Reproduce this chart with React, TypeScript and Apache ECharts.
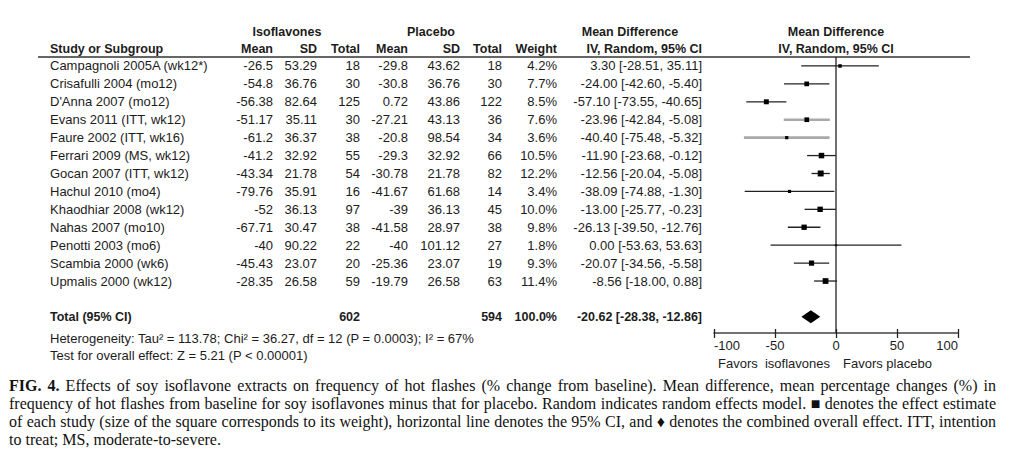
import React, { useEffect, useRef } from "react";
import * as echarts from "echarts";

// ---------------- data ----------------
const studies = [
  "Campagnoli 2005A (wk12*)",
  "Crisafulli 2004 (mo12)",
  "D'Anna 2007 (mo12)",
  "Evans 2011 (ITT, wk12)",
  "Faure 2002 (ITT, wk16)",
  "Ferrari 2009 (MS, wk12)",
  "Gocan 2007 (ITT, wk12)",
  "Hachul 2010 (mo4)",
  "Khaodhiar 2008 (wk12)",
  "Nahas 2007 (mo10)",
  "Penotti 2003 (mo6)",
  "Scambia 2000 (wk6)",
  "Upmalis 2000 (wk12)",
];
const isoMean = [-26.5, -54.8, -56.38, -51.17, -61.2, -41.2, -43.34, -79.76, -52, -67.71, -40, -45.43, -28.35];
const isoSD = [53.29, 36.76, 82.64, 35.11, 36.37, 32.92, 21.78, 35.91, 36.13, 30.47, 90.22, 23.07, 26.58];
const isoTotal = [18, 30, 125, 30, 38, 55, 54, 16, 97, 38, 22, 20, 59];
const plcMean = [-29.8, -30.8, 0.72, -27.21, -20.8, -29.3, -30.78, -41.67, -39, -41.58, -40, -25.36, -19.79];
const plcSD = [43.62, 36.76, 43.86, 43.13, 98.54, 32.92, 21.78, 61.68, 36.13, 28.97, 101.12, 23.07, 26.58];
const plcTotal = [18, 30, 122, 36, 34, 66, 82, 14, 45, 38, 27, 19, 63];
const weight = [4.2, 7.7, 8.5, 7.6, 3.6, 10.5, 12.2, 3.4, 10.0, 9.8, 1.8, 9.3, 11.4];
const md = [3.3, -24.0, -57.1, -23.96, -40.4, -11.9, -12.56, -38.09, -13.0, -26.13, 0.0, -20.07, -8.56];
const lo = [-28.51, -42.6, -73.55, -42.84, -75.48, -23.68, -20.04, -74.88, -25.77, -39.5, -53.63, -34.56, -18.0];
const hi = [35.11, -5.4, -40.65, -5.08, -5.32, -0.12, -5.08, -1.3, -0.23, -12.76, 53.63, -5.58, 0.88];
const greyRows = [3, 4];

const totalIso = 602;
const totalPlc = 594;
const totalWeight = 100.0;
const totalMD = -20.62;
const totalLo = -28.38;
const totalHi = -12.86;

const xMin = -100;
const xMax = 100;
const xInterval = 50;

const heterogeneityText = "Heterogeneity: Tau\u00B2 = 113.78; Chi\u00B2 = 36.27, df = 12 (P = 0.0003); I\u00B2 = 67%";
const overallText = "Test for overall effect: Z = 5.21 (P < 0.00001)";

const captionLines = [
  "FIG. 4. Effects of soy isoflavone extracts on frequency of hot flashes (% change from baseline). Mean difference, mean percentage changes (%) in",
  "frequency of hot flashes from baseline for soy isoflavones minus that for placebo. Random indicates random effects model. \u25A0 denotes the effect estimate",
  "of each study (size of the square corresponds to its weight), horizontal line denotes the 95% CI, and \u2666 denotes the combined overall effect. ITT, intention",
  "to treat; MS, moderate-to-severe.",
];

// ---------------- layout / style ----------------
const FONT = '"Liberation Sans", Arial, Helvetica, sans-serif';
const SERIF = '"Liberation Serif", "Times New Roman", serif';
const INK = "#1c1c1c";
const FS = 13;
const FS_BOLD = 12.5;
const TOTAL_ROW = 14;
const Y_MIN = -0.5;
const Y_MAX = 14.9;
const GRID_TOP = 57;
const GRID_BOTTOM = 131;
const GRID_H = 464 - GRID_TOP - GRID_BOTTOM;
const STUDY_X = 50;
const colRight = [273, 317, 360, 408, 460, 502, 557, 702];
const CAP_L = 9;
const CAP_R = 996;
const CAP_FS = 16;
const capY = [385, 403, 421, 439];

const fmtCI = (m: number, l: number, h: number) => `${m.toFixed(2)} [${l.toFixed(2)}, ${h.toFixed(2)}]`;

function t(text: string, x: number, y: number, align: string, bold = false, size?: number, family = FONT, fill = INK) {
  return {
    type: "text",
    x,
    y,
    silent: true,
    style: {
      text,
      fill,
      fontSize: size ?? (bold ? FS_BOLD : FS),
      fontFamily: family,
      fontWeight: bold ? "bold" : "normal",
      align,
      textAlign: align,
      verticalAlign: "middle",
      textVerticalAlign: "middle",
    },
  };
}

function buildCaption() {
  const canvas = document.createElement("canvas");
  const ctx = canvas.getContext("2d")!;
  const measure = (s: string, bold: boolean) => {
    ctx.font = `${bold ? "bold " : ""}${CAP_FS}px ${SERIF}`;
    return ctx.measureText(s).width;
  };
  const els: any[] = [];
  captionLines.forEach((line, li) => {
    const words = line.split(" ");
    const bolds = words.map((_, wi) => li === 0 && wi < 2);
    const widths = words.map((w, wi) => measure(w, bolds[wi]));
    const sum = widths.reduce((a, b) => a + b, 0);
    const justify = li < captionLines.length - 1;
    const gap = justify ? (CAP_R - CAP_L - sum) / (words.length - 1) : measure(" ", false);
    let x = CAP_L;
    words.forEach((w, wi) => {
      els.push(t(w, x, capY[li], "left", bolds[wi], CAP_FS, SERIF, "#111"));
      x += widths[wi] + gap;
    });
  });
  return els;
}

function buildHeaders() {
  return [
    t("Isoflavones", 287, 32, "center", true),
    t("Placebo", 431, 32, "center", true),
    t("Mean Difference", 630, 32, "center", true),
    t("Mean Difference", 836, 32, "center", true),
    t("Study or Subgroup", STUDY_X, 49, "left", true),
    t("Mean", colRight[0], 49, "right", true),
    t("SD", colRight[1], 49, "right", true),
    t("Total", colRight[2], 49, "right", true),
    t("Mean", colRight[3], 49, "right", true),
    t("SD", colRight[4], 49, "right", true),
    t("Total", colRight[5], 49, "right", true),
    t("Weight", colRight[6], 49, "right", true),
    t("IV, Random, 95% CI", colRight[7], 49, "right", true),
    t("IV, Random, 95% CI", 836, 49, "center", true),
    {
      type: "line",
      silent: true,
      shape: { x1: 38, y1: GRID_TOP, x2: 970, y2: GRID_TOP },
      style: { stroke: "#333", lineWidth: 1.5 },
    },
    t(heterogeneityText, STUDY_X, 338, "left"),
    t(overallText, STUDY_X, 355, "left"),
    t("Favors  isoflavones", 830, 363, "right"),
    t("Favors placebo", 843, 363, "left"),
  ];
}

export default function App() {
  const ref = useRef<HTMLDivElement>(null);
  useEffect(() => {
    if (!ref.current) return;
    const chart = echarts.init(ref.current, null, { renderer: "svg" });

    const tableData = studies.map((_, i) => [0, i]);
    const forestData = studies.map((_, i) => [md[i], i, lo[i], hi[i], weight[i]]);

    const option: any = {
      animation: false,
      backgroundColor: "#ffffff",
      grid: { left: 714, right: 52, top: GRID_TOP, bottom: GRID_BOTTOM, containLabel: false },
      xAxis: [
        {
          type: "value",
          min: xMin,
          max: xMax,
          interval: xInterval,
          position: "bottom",
          axisLine: { show: true, onZero: false, lineStyle: { color: "#444", width: 1.6 } },
          axisTick: { show: true, length: 5, lineStyle: { color: "#222", width: 1.3 } },
          axisLabel: {
            color: INK,
            fontSize: FS,
            fontFamily: FONT,
            margin: 6,
            alignMinLabel: "left",
            alignMaxLabel: "right",
          },
          splitLine: { show: false },
        },
        {
          // upper halves of the crossing ticks, moved down onto the bottom axis line
          type: "value",
          min: xMin,
          max: xMax,
          interval: xInterval,
          position: "top",
          offset: -GRID_H,
          axisLine: { show: false, onZero: false },
          axisTick: { show: true, inside: false, length: 4, lineStyle: { color: "#222", width: 1.3 } },
          axisLabel: { show: false },
          splitLine: { show: false },
        },
      ],
      yAxis: { type: "value", inverse: true, min: Y_MIN, max: Y_MAX, show: false },
      graphic: { elements: [...buildHeaders(), ...buildCaption()] },
      series: [
        {
          type: "line",
          xAxisIndex: 0,
          data: [
            [0, Y_MIN],
            [0, Y_MAX],
          ],
          symbol: "none",
          silent: true,
          lineStyle: { color: "#222", width: 1.3 },
        },
        {
          type: "custom",
          xAxisIndex: 0,
          silent: true,
          clip: false,
          data: tableData,
          encode: { x: 0, y: 1 },
          renderItem: (params: any, api: any) => {
            const i = params.dataIndex;
            const y = api.coord([0, api.value(1)])[1];
            const cells = [
              String(isoMean[i]),
              isoSD[i].toFixed(2),
              String(isoTotal[i]),
              String(plcMean[i]),
              plcSD[i].toFixed(2),
              String(plcTotal[i]),
              weight[i].toFixed(1) + "%",
              fmtCI(md[i], lo[i], hi[i]),
            ];
            return {
              type: "group",
              children: [t(studies[i], STUDY_X, y, "left"), ...cells.map((c, k) => t(c, colRight[k], y, "right"))],
            };
          },
        },
        {
          type: "custom",
          xAxisIndex: 0,
          silent: true,
          clip: false,
          data: forestData,
          encode: { x: [0, 2, 3], y: 1 },
          renderItem: (params: any, api: any) => {
            const yv = api.value(1);
            const c = api.coord([api.value(0), yv]);
            const l = api.coord([api.value(2), yv]);
            const h = api.coord([api.value(3), yv]);
            const s = Math.sqrt(api.value(4)) * 1.7;
            const grey = greyRows.includes(params.dataIndex);
            return {
              type: "group",
              children: [
                {
                  type: "line",
                  shape: { x1: l[0], y1: c[1], x2: h[0], y2: c[1] },
                  style: { stroke: grey ? "#a9a9a9" : "#222", lineWidth: grey ? 2.6 : 1.3 },
                },
                {
                  type: "rect",
                  shape: { x: c[0] - s / 2, y: c[1] - s / 2, width: s, height: s },
                  style: { fill: "#000" },
                },
              ],
            };
          },
        },
        {
          type: "custom",
          xAxisIndex: 0,
          silent: true,
          clip: false,
          data: [[totalMD, TOTAL_ROW, totalLo, totalHi]],
          encode: { x: [0, 2, 3], y: 1 },
          renderItem: (params: any, api: any) => {
            const yv = api.value(1);
            const c = api.coord([api.value(0), yv]);
            const l = api.coord([api.value(2), yv]);
            const h = api.coord([api.value(3), yv]);
            const y = c[1];
            return {
              type: "group",
              children: [
                {
                  type: "polygon",
                  shape: {
                    points: [
                      [l[0], y],
                      [c[0], y - 6.5],
                      [h[0], y],
                      [c[0], y + 6.5],
                    ],
                  },
                  style: { fill: "#000" },
                },
                t("Total (95% CI)", STUDY_X, y, "left", true),
                t(String(totalIso), colRight[2], y, "right", true),
                t(String(totalPlc), colRight[5], y, "right", true),
                t(totalWeight.toFixed(1) + "%", colRight[6], y, "right", true),
                t(fmtCI(totalMD, totalLo, totalHi), colRight[7], y, "right", true),
              ],
            };
          },
        },
      ],
    };

    chart.setOption(option);
    return () => chart.dispose();
  }, []);

  return <div ref={ref} style={{ position: "absolute", left: 0, top: 0, width: 1010, height: 464 }} />;
}
